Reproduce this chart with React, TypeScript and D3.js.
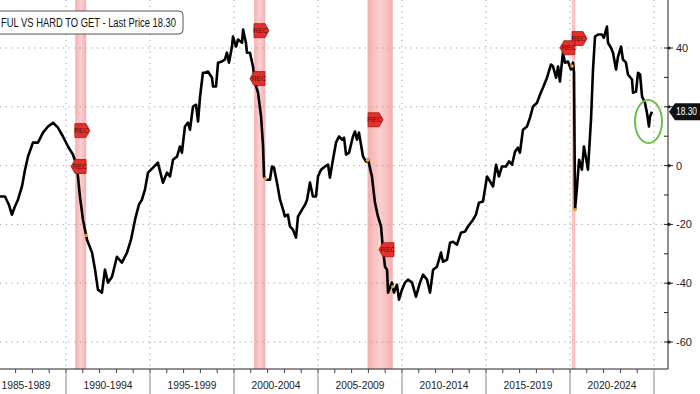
import React from "react";
import * as d3 from "d3";

const W = 700;
const H = 394;

// decimal years and values (Jobs plentiful minus hard to get)
const dates = [
  1986.07, 1986.37, 1986.6, 1986.78, 1986.96, 1987.14, 1987.38, 1987.56, 1987.74, 1988.03,
  1988.33, 1988.63, 1988.93, 1989.23, 1989.52, 1989.82, 1990.12, 1990.42, 1990.65, 1990.83,
  1991.01, 1991.25, 1991.55, 1991.73, 1991.9, 1992.14, 1992.32, 1992.5, 1992.74, 1993.03,
  1993.33, 1993.63, 1993.87, 1994.11, 1994.34, 1994.52, 1994.7, 1994.88, 1995.18, 1995.47,
  1995.77, 1996.01, 1996.19, 1996.37, 1996.61, 1996.78, 1996.9, 1997.08, 1997.26, 1997.38,
  1997.56, 1997.74, 1997.86, 1997.98, 1998.15, 1998.27, 1998.45, 1998.69, 1998.75, 1998.93,
  1999.05, 1999.28, 1999.46, 1999.58, 1999.7, 1999.88, 1999.94, 2000.12, 2000.24, 2000.48,
  2000.54, 2000.71, 2000.77, 2000.95, 2001.13, 2001.25, 2001.43, 2001.61, 2001.73, 2001.79,
  2001.9, 2002.14, 2002.26, 2002.38, 2002.56, 2002.74, 2002.92, 2003.03, 2003.21, 2003.33,
  2003.51, 2003.69, 2003.81, 2004.05, 2004.23, 2004.35, 2004.52, 2004.7, 2004.88, 2005.0,
  2005.18, 2005.42, 2005.6, 2005.71, 2005.89, 2006.07, 2006.25, 2006.43, 2006.55, 2006.67,
  2006.85, 2007.08, 2007.2, 2007.32, 2007.44, 2007.56, 2007.68, 2007.86, 2007.98, 2008.21,
  2008.39, 2008.57, 2008.75, 2008.87, 2008.99, 2009.11, 2009.17, 2009.4, 2009.52, 2009.7,
  2009.82, 2010.0, 2010.18, 2010.36, 2010.6, 2010.83, 2011.07, 2011.25, 2011.49, 2011.67,
  2011.85, 2012.08, 2012.32, 2012.44, 2012.68, 2012.86, 2013.04, 2013.27, 2013.51, 2013.75,
  2013.93, 2014.23, 2014.4, 2014.58, 2014.82, 2015.06, 2015.18, 2015.42, 2015.6, 2015.77,
  2015.95, 2016.19, 2016.37, 2016.55, 2016.73, 2016.9, 2017.02, 2017.2, 2017.44, 2017.62,
  2017.8, 2018.04, 2018.21, 2018.39, 2018.63, 2018.87, 2018.99, 2019.17, 2019.29, 2019.4,
  2019.58, 2019.7, 2019.88, 2020.06, 2020.18, 2020.24, 2020.3, 2020.42, 2020.54, 2020.71,
  2020.83, 2020.95, 2021.07, 2021.25, 2021.37, 2021.49, 2021.67, 2021.9, 2022.02, 2022.2,
  2022.26, 2022.44, 2022.56, 2022.74, 2022.86, 2023.04, 2023.15, 2023.33, 2023.45, 2023.69,
  2023.75, 2023.93, 2024.05, 2024.17, 2024.29, 2024.46, 2024.58, 2024.7, 2024.76, 2024.88,
];
const values = [
  -10.5, -10.5, -13.3, -16.7, -13.9, -11.6, -7.1, -1.4, 3.1, 7.8,
  7.8, 11.2, 13.3, 14.6, 12.9, 9.9, 6.5, 3.7, -0.3, -10.5,
  -18.4, -25.2, -29.6, -35.4, -42.2, -43.2, -35.4, -39.8, -37.8, -31.0,
  -33.0, -29.6, -25.2, -18.4, -13.3, -11.6, -8.2, -2.4, -0.7, 1.0,
  -5.8, -2.4, -3.7, 2.0, 3.1, 6.5, 4.4, 13.3, 14.6, 12.2,
  20.1, 20.7, 15.0, 23.5, 31.6, 31.6, 32.0, 29.9, 26.9, 26.9,
  35.0, 35.4, 36.1, 38.4, 35.0, 40.5, 43.9, 40.5, 42.9, 41.8,
  46.3, 41.8, 38.4, 38.4, 33.7, 28.2, 24.8, 16.7, 6.5, -3.7,
  -4.8, -4.8, -0.3, -0.7, -5.8, -11.6, -15.0, -17.3, -16.7, -20.7,
  -21.8, -24.5, -17.3, -15.0, -13.3, -11.6, -5.8, -10.5, -10.5, -3.7,
  -1.4, -0.3, 0.3, -4.1, 2.0, 7.8, 9.9, 8.8, 9.5, 3.7,
  4.4, 9.9, 11.6, 8.8, 11.2, 7.1, 3.1, 1.4, 2.0, -3.7,
  -12.6, -17.3, -20.7, -28.6, -34.4, -35.4, -43.2, -39.8, -43.2, -40.5,
  -45.6, -42.2, -39.8, -38.8, -39.8, -44.6, -39.8, -37.1, -38.8, -43.2,
  -35.4, -34.4, -29.6, -32.7, -32.0, -26.2, -25.9, -26.9, -22.8, -22.4,
  -20.7, -18.4, -16.7, -12.6, -12.2, -3.7, -4.8, -7.1, 0.3, -3.7,
  -0.3, -0.3, 1.4, 0.3, 4.8, 6.1, 4.4, 12.2, 13.3, 16.3,
  20.1, 21.4, 24.1, 26.5, 29.9, 34.4, 33.7, 29.9, 33.7, 28.6,
  38.4, 35.0, 35.4, 32.7, 35.0, 31.6, -15.0, -7.1, 2.0, -1.4,
  6.5, 2.7, -1.4, 15.6, 32.7, 43.9, 44.6, 44.6, 43.5, 47.3,
  41.8, 40.1, 38.4, 32.7, 37.1, 40.5, 36.1, 35.0, 31.0, 29.3,
  24.8, 25.2, 31.6, 31.0, 23.5, 21.4, 18.0, 13.3, 16.7, 18.3,
];

const recessions: [number, number][] = [
  [1990.55, 1991.2],
  [2001.2, 2001.87],
  [2007.95, 2009.45],
  [2020.12, 2020.3],
];

// REC event flags: [year, value, direction]
const recFlags: [number, number, "right" | "left"][] = [
  [1990.53, 11.9, "right"],
  [1990.3, -0.3, "left"],
  [2001.19, 45.9, "right"],
  [2000.95, 29.6, "left"],
  [2007.98, 15.6, "right"],
  [2008.63, -28.6, "left"],
  [2020.12, 43.2, "right"],
  [2019.4, 40.1, "left"],
];

const yTicks = [40, 20, 0, -20, -40, -60];
const yMinorTicks = [30, 10, -10, -30, -50];
const periodStarts = [1985, 1990, 1995, 2000, 2005, 2010, 2015, 2020];
const periodLabels = [
  "1985-1989", "1990-1994", "1995-1999", "2000-2004",
  "2005-2009", "2010-2014", "2015-2019", "2020-2024",
];
const lastPrice = 18.3;
const titleText = "FUL VS HARD TO GET - Last Price 18.30";

export default function App() {
  const plotRight = 668;
  const plotBottom = 369;
  const x = d3.scaleLinear().domain([1985, 2025]).range([-18, 654]);
  const y = d3.scaleLinear().domain([-60, 40]).range([342, 48]);

  const data = dates.map((d, i) => [d, values[i]] as [number, number]);
  const line = d3
    .line<[number, number]>()
    .x((d) => x(d[0]))
    .y((d) => y(d[1]))
    .curve(d3.curveLinear);

  const interp = (yr: number) => {
    const i = d3.bisector((d: [number, number]) => d[0]).left(data, yr);
    if (i <= 0) return data[0][1];
    if (i >= data.length) return data[data.length - 1][1];
    const a = data[i - 1];
    const b = data[i];
    const t = (yr - a[0]) / (b[0] - a[0]);
    return a[1] + t * (b[1] - a[1]);
  };

  const font = "'Liberation Sans', Arial, sans-serif";
  const years = d3.range(1986, 2025);
  const tagY = y(lastPrice);

  return (
    <svg
      width={W}
      height={H}
      style={{ position: "absolute", left: 0, top: 0, background: "#fff" }}
      fontFamily={font}
    >
      <defs>
        <linearGradient id="recg" x1="0" x2="1" y1="0" y2="0">
          <stop offset="0" stopColor="#f4aeae" />
          <stop offset="0.5" stopColor="#fbd0d0" />
          <stop offset="1" stopColor="#f4aeae" />
        </linearGradient>
        <clipPath id="plotclip">
          <rect x={0} y={0} width={plotRight} height={plotBottom} />
        </clipPath>
      </defs>
      <rect x={0} y={0} width={W} height={H} fill="#fff" />

      {/* recession bands */}
      {recessions.map(([a, b], i) => (
        <rect
          key={"r" + i}
          x={x(a)}
          y={0}
          width={Math.max(2, x(b) - x(a))}
          height={plotBottom}
          fill="url(#recg)"
        />
      ))}

      {/* grid */}
      {yTicks.map((t) => (
        <line
          key={"gy" + t}
          x1={0}
          x2={plotRight}
          y1={y(t)}
          y2={y(t)}
          stroke="#9a9a9a"
          strokeWidth={1}
          strokeDasharray="1.2,4.5"
        />
      ))}
      {periodStarts.slice(1).concat([2025]).map((p) => (
        <line
          key={"gx" + p}
          x1={x(p)}
          x2={x(p)}
          y1={0}
          y2={plotBottom}
          stroke="#9a9a9a"
          strokeWidth={1}
          strokeDasharray="1.2,4.5"
        />
      ))}

      {/* title box */}
      <rect x={-6} y={11} width={189} height={23} rx={4} fill="#fff" stroke="#555" strokeWidth={1} />
      <text x={1} y={27} fontSize={12} fill="#111" textLength={175} lengthAdjust="spacingAndGlyphs">
        {titleText}
      </text>

      {/* data line */}
      <g clipPath="url(#plotclip)">
        <path d={line(data) || ""} fill="none" stroke="#000" strokeWidth={2.6} strokeLinejoin="round" />
        {recessions.flatMap(([a, b], i) => [
          <circle key={"oa" + i} cx={x(a)} cy={y(interp(a))} r={1.8} fill="#f0a030" />,
          <circle key={"ob" + i} cx={x(b)} cy={y(interp(b))} r={1.8} fill="#f0a030" />,
        ])}
      </g>

      {/* REC flags */}
      {recFlags.map(([yr, v, dir], i) => {
        const px = x(yr);
        const py = y(v);
        const h = 7;
        const pts =
          dir === "right"
            ? [[px, py - h], [px + 11, py - h], [px + 15, py], [px + 11, py + h], [px, py + h]]
            : [[px, py], [px + 4, py - h], [px + 15, py - h], [px + 15, py + h], [px + 4, py + h]];
        const cx = dir === "right" ? px + 6.5 : px + 9;
        return (
          <g key={"f" + i}>
            <polygon points={pts.map((p) => p.join(",")).join(" ")} fill="#e2312b" stroke="#a81616" strokeWidth={0.8} />
            <text x={cx} y={py + 2.5} fontSize={7} textAnchor="middle" fill="#6a0a0a">
              REC
            </text>
          </g>
        );
      })}

      {/* green ellipse */}
      <ellipse cx={648.5} cy={121.5} rx={13.5} ry={21.5} fill="none" stroke="#6cc04a" strokeWidth={2} />

      {/* right axis */}
      <line x1={plotRight} x2={plotRight} y1={0} y2={plotBottom} stroke="#222" strokeWidth={1} />
      {yTicks.map((t) => (
        <g key={"yt" + t}>
          <line x1={plotRight - 4} x2={plotRight + 5} y1={y(t)} y2={y(t)} stroke="#222" strokeWidth={1} />
          <circle cx={plotRight + 1} cy={y(t)} r={1.6} fill="#222" />
          {Math.abs(y(t) - tagY) > 12 && (
            <text x={plotRight + 8} y={y(t) + 4} fontSize={11} fill="#222">
              {t}
            </text>
          )}
        </g>
      ))}
      {yMinorTicks.map((t) => (
        <line key={"ym" + t} x1={plotRight - 4} x2={plotRight} y1={y(t)} y2={y(t)} stroke="#222" strokeWidth={1} />
      ))}

      {/* last price tag */}
      <g>
        <polygon
          points={`${plotRight + 1},${tagY} ${plotRight + 7},${tagY - 8.5} ${W},${tagY - 8.5} ${W},${tagY + 8.5} ${plotRight + 7},${tagY + 8.5}`}
          fill="#111"
        />
        <text
          x={plotRight + 8}
          y={tagY + 3.5}
          fontSize={10}
          fill="#fff"
          textLength={21}
          lengthAdjust="spacingAndGlyphs"
        >
          {lastPrice.toFixed(2)}
        </text>
      </g>

      {/* bottom axis */}
      <line x1={0} x2={plotRight} y1={plotBottom} y2={plotBottom} stroke="#222" strokeWidth={1} />
      {years.map((yr) => (
        <line key={"yr" + yr} x1={x(yr)} x2={x(yr)} y1={plotBottom} y2={plotBottom + 4} stroke="#444" strokeWidth={1} />
      ))}
      {periodStarts.slice(1).concat([2025]).map((p) => (
        <line key={"sep" + p} x1={x(p)} x2={x(p)} y1={plotBottom} y2={H} stroke="#888" strokeWidth={1} />
      ))}
      {periodStarts.map((p, i) => (
        <text
          key={"pl" + p}
          x={i === 0 ? 26 : x(p + 2.5)}
          y={389}
          fontSize={11}
          textAnchor="middle"
          fill="#222"
          textLength={49}
          lengthAdjust="spacingAndGlyphs"
        >
          {periodLabels[i]}
        </text>
      ))}
    </svg>
  );
}
